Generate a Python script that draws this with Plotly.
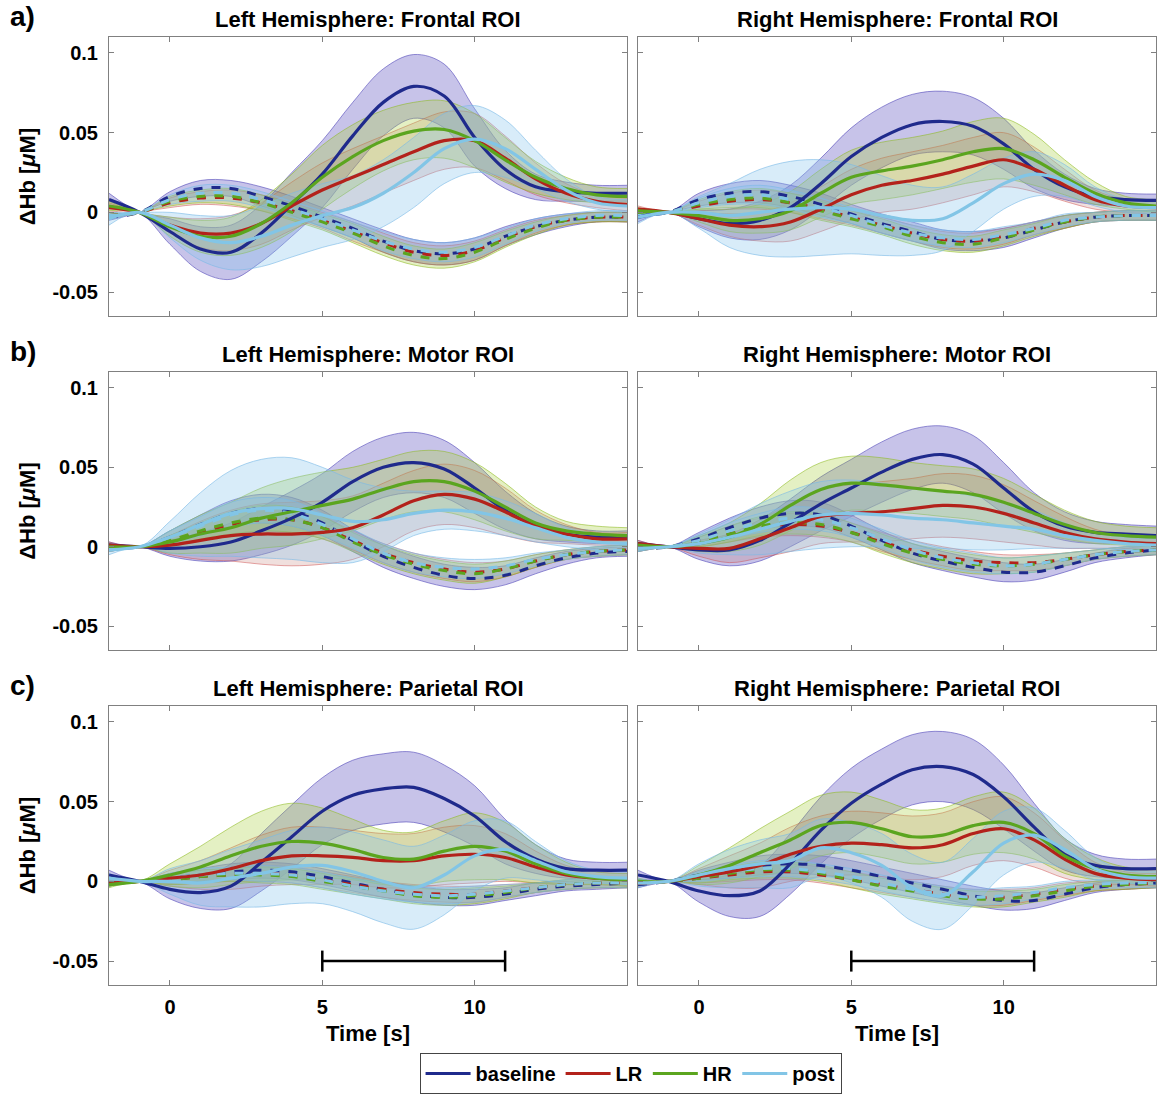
import plotly.graph_objects as go

# ---------------------------------------------------------------- data
TIME = [-2, -1, 0, 1, 2, 3, 4, 5, 6, 7, 8, 9, 10, 11, 12, 13, 14, 15]

# Left hemisphere, frontal ROI  (_O = HbO mean, _R = HbR mean, _SD = band half-width)
LF_BASE_O = [0.008, 0, -0.012, -0.023, -0.025, -0.013, 0.005, 0.024, 0.048, 0.069, 0.079, 0.073, 0.047, 0.027, 0.016, 0.013, 0.012, 0.012]
LF_BASE_O_SD = [0.004, 0, 0.008, 0.014, 0.017, 0.018, 0.02, 0.021, 0.021, 0.021, 0.02, 0.02, 0.018, 0.012, 0.008, 0.006, 0.005, 0.005]
LF_LR_O = [0.003, 0, -0.008, -0.013, -0.013, -0.007, 0.004, 0.014, 0.022, 0.03, 0.038, 0.045, 0.045, 0.034, 0.021, 0.012, 0.007, 0.005]
LF_LR_O_SD = [0.003, 0, 0.005, 0.009, 0.011, 0.013, 0.015, 0.017, 0.018, 0.018, 0.018, 0.018, 0.017, 0.014, 0.01, 0.006, 0.004, 0.004]
LF_HR_O = [0.004, 0, -0.009, -0.015, -0.015, -0.007, 0.006, 0.022, 0.035, 0.045, 0.051, 0.052, 0.045, 0.033, 0.022, 0.015, 0.011, 0.01]
LF_HR_O_SD = [0.003, 0, 0.006, 0.01, 0.012, 0.015, 0.018, 0.02, 0.02, 0.019, 0.018, 0.018, 0.017, 0.014, 0.01, 0.007, 0.005, 0.005]
LF_POST_O = [-0.004, 0, -0.008, -0.016, -0.019, -0.015, -0.008, -0.002, 0.003, 0.012, 0.025, 0.04, 0.046, 0.04, 0.027, 0.014, 0.006, 0.004]
LF_POST_O_SD = [0.004, 0, 0.008, 0.014, 0.017, 0.019, 0.02, 0.02, 0.02, 0.021, 0.022, 0.022, 0.021, 0.018, 0.012, 0.007, 0.004, 0.004]
LF_BASE_R = [-0.003, 0, 0.01, 0.015, 0.015, 0.01, 0.004, -0.003, -0.01, -0.018, -0.024, -0.026, -0.023, -0.015, -0.009, -0.005, -0.003, -0.003]
LF_BASE_R_SD = [0.002, 0, 0.003, 0.005, 0.005, 0.006, 0.006, 0.006, 0.006, 0.007, 0.007, 0.007, 0.007, 0.006, 0.005, 0.004, 0.003, 0.003]
LF_LR_R = [-0.002, 0, 0.006, 0.009, 0.009, 0.006, 0.001, -0.005, -0.012, -0.019, -0.025, -0.027, -0.024, -0.016, -0.009, -0.005, -0.003, -0.003]
LF_LR_R_SD = [0.002, 0, 0.003, 0.004, 0.005, 0.005, 0.005, 0.005, 0.006, 0.006, 0.006, 0.006, 0.006, 0.005, 0.004, 0.003, 0.003, 0.003]
LF_HR_R = [-0.002, 0, 0.007, 0.01, 0.01, 0.006, 0.0, -0.006, -0.013, -0.021, -0.027, -0.029, -0.025, -0.017, -0.01, -0.005, -0.003, -0.003]
LF_HR_R_SD = [0.002, 0, 0.003, 0.004, 0.005, 0.005, 0.005, 0.005, 0.006, 0.006, 0.006, 0.006, 0.006, 0.005, 0.004, 0.003, 0.003, 0.003]
LF_POST_R = [-0.002, 0, 0.008, 0.012, 0.012, 0.008, 0.002, -0.004, -0.011, -0.018, -0.023, -0.025, -0.022, -0.015, -0.008, -0.004, -0.002, -0.002]
LF_POST_R_SD = [0.002, 0, 0.003, 0.005, 0.005, 0.005, 0.005, 0.005, 0.005, 0.006, 0.006, 0.006, 0.006, 0.005, 0.004, 0.003, 0.003, 0.003]

# Right hemisphere, frontal ROI
RF_BASE_O = [-0.003, 0, -0.004, -0.007, -0.005, 0.003, 0.018, 0.035, 0.047, 0.055, 0.057, 0.054, 0.043, 0.027, 0.016, 0.01, 0.008, 0.0075]
RF_BASE_O_SD = [0.003, 0, 0.005, 0.009, 0.012, 0.014, 0.016, 0.018, 0.019, 0.019, 0.019, 0.018, 0.016, 0.012, 0.008, 0.005, 0.004, 0.004]
RF_LR_O = [0.002, 0, -0.004, -0.008, -0.009, -0.006, 0.002, 0.011, 0.017, 0.02, 0.024, 0.029, 0.033, 0.027, 0.017, 0.008, 0.004, 0.003]
RF_LR_O_SD = [0.002, 0, 0.004, 0.007, 0.009, 0.012, 0.014, 0.016, 0.017, 0.018, 0.018, 0.018, 0.017, 0.014, 0.01, 0.006, 0.004, 0.004]
RF_HR_O = [0.001, 0, -0.002, -0.005, -0.004, 0.001, 0.012, 0.022, 0.026, 0.029, 0.033, 0.038, 0.04, 0.033, 0.022, 0.012, 0.006, 0.004]
RF_HR_O_SD = [0.002, 0, 0.004, 0.007, 0.009, 0.012, 0.015, 0.017, 0.018, 0.018, 0.018, 0.019, 0.019, 0.016, 0.011, 0.007, 0.004, 0.004]
RF_POST_O = [-0.003, 0, 0.0, -0.002, 0.0, 0.002, 0.003, 0.002, -0.002, -0.005, -0.004, 0.006, 0.018, 0.024, 0.02, 0.01, 0.004, 0.003]
RF_POST_O_SD = [0.004, 0, 0.01, 0.02, 0.027, 0.03, 0.03, 0.028, 0.025, 0.022, 0.02, 0.018, 0.016, 0.014, 0.01, 0.006, 0.004, 0.004]
RF_BASE_R = [-0.002, 0, 0.008, 0.012, 0.013, 0.01, 0.005, -0.001, -0.007, -0.012, -0.017, -0.018, -0.016, -0.011, -0.006, -0.003, -0.002, -0.002]
RF_BASE_R_SD = [0.002, 0, 0.004, 0.006, 0.007, 0.007, 0.007, 0.006, 0.006, 0.006, 0.006, 0.006, 0.006, 0.005, 0.004, 0.003, 0.003, 0.003]
RF_LR_R = [-0.001, 0, 0.004, 0.007, 0.008, 0.006, 0.002, -0.003, -0.008, -0.013, -0.017, -0.018, -0.015, -0.01, -0.006, -0.003, -0.002, -0.002]
RF_LR_R_SD = [0.002, 0, 0.003, 0.005, 0.006, 0.006, 0.006, 0.005, 0.005, 0.005, 0.005, 0.005, 0.005, 0.004, 0.004, 0.003, 0.003, 0.003]
RF_HR_R = [-0.001, 0, 0.005, 0.008, 0.009, 0.006, 0.001, -0.004, -0.009, -0.015, -0.019, -0.02, -0.016, -0.011, -0.006, -0.003, -0.002, -0.002]
RF_HR_R_SD = [0.002, 0, 0.003, 0.005, 0.006, 0.006, 0.006, 0.005, 0.005, 0.005, 0.005, 0.005, 0.005, 0.004, 0.004, 0.003, 0.003, 0.003]
RF_POST_R = [-0.002, 0, 0.006, 0.01, 0.011, 0.008, 0.003, -0.002, -0.008, -0.013, -0.016, -0.017, -0.014, -0.01, -0.005, -0.003, -0.002, -0.002]
RF_POST_R_SD = [0.002, 0, 0.003, 0.005, 0.006, 0.006, 0.006, 0.005, 0.005, 0.005, 0.005, 0.005, 0.005, 0.004, 0.004, 0.003, 0.003, 0.003]

# Left hemisphere, motor ROI
LM_BASE_O = [0.001, 0, -0.001, 0.0, 0.003, 0.01, 0.018, 0.028, 0.041, 0.05, 0.053, 0.049, 0.037, 0.023, 0.013, 0.008, 0.006, 0.006]
LM_BASE_O_SD = [0.002, 0, 0.005, 0.009, 0.012, 0.015, 0.017, 0.018, 0.019, 0.019, 0.019, 0.018, 0.016, 0.012, 0.008, 0.005, 0.004, 0.004]
LM_LR_O = [0.001, 0, 0.001, 0.004, 0.007, 0.008, 0.008, 0.009, 0.012, 0.02, 0.029, 0.033, 0.03, 0.022, 0.013, 0.008, 0.005, 0.005]
LM_LR_O_SD = [0.002, 0, 0.006, 0.012, 0.016, 0.019, 0.02, 0.02, 0.02, 0.02, 0.019, 0.019, 0.018, 0.015, 0.01, 0.006, 0.004, 0.004]
LM_HR_O = [0.0, 0, 0.003, 0.008, 0.012, 0.018, 0.022, 0.026, 0.03, 0.036, 0.041, 0.041, 0.035, 0.025, 0.015, 0.01, 0.008, 0.007]
LM_HR_O_SD = [0.002, 0, 0.007, 0.012, 0.016, 0.019, 0.021, 0.021, 0.02, 0.019, 0.019, 0.019, 0.018, 0.015, 0.01, 0.006, 0.005, 0.005]
LM_POST_O = [-0.002, 0, 0.006, 0.014, 0.021, 0.024, 0.024, 0.02, 0.016, 0.017, 0.021, 0.023, 0.022, 0.018, 0.012, 0.006, 0.003, 0.002]
LM_POST_O_SD = [0.003, 0, 0.01, 0.02, 0.027, 0.031, 0.032, 0.03, 0.026, 0.02, 0.014, 0.012, 0.012, 0.011, 0.009, 0.006, 0.005, 0.005]
LM_BASE_R = [-0.001, 0, 0.006, 0.014, 0.021, 0.024, 0.022, 0.015, 0.004, -0.006, -0.013, -0.018, -0.02, -0.018, -0.012, -0.007, -0.004, -0.003]
LM_BASE_R_SD = [0.002, 0, 0.004, 0.006, 0.008, 0.009, 0.009, 0.008, 0.007, 0.007, 0.007, 0.007, 0.007, 0.006, 0.005, 0.004, 0.003, 0.003]
LM_LR_R = [-0.001, 0, 0.004, 0.009, 0.014, 0.017, 0.017, 0.012, 0.004, -0.004, -0.01, -0.014, -0.016, -0.014, -0.009, -0.005, -0.003, -0.002]
LM_LR_R_SD = [0.002, 0, 0.003, 0.005, 0.007, 0.008, 0.008, 0.007, 0.006, 0.006, 0.006, 0.006, 0.006, 0.005, 0.004, 0.003, 0.003, 0.003]
LM_HR_R = [-0.001, 0, 0.004, 0.01, 0.015, 0.018, 0.017, 0.012, 0.003, -0.005, -0.011, -0.015, -0.017, -0.014, -0.009, -0.005, -0.003, -0.002]
LM_HR_R_SD = [0.002, 0, 0.003, 0.005, 0.007, 0.008, 0.008, 0.007, 0.006, 0.006, 0.006, 0.006, 0.006, 0.005, 0.004, 0.003, 0.003, 0.003]
LM_POST_R = [-0.001, 0, 0.006, 0.013, 0.02, 0.023, 0.021, 0.014, 0.005, -0.004, -0.01, -0.013, -0.014, -0.012, -0.008, -0.005, -0.003, -0.002]
LM_POST_R_SD = [0.002, 0, 0.004, 0.006, 0.008, 0.008, 0.008, 0.007, 0.006, 0.006, 0.006, 0.006, 0.006, 0.005, 0.004, 0.003, 0.003, 0.003]

# Right hemisphere, motor ROI
RM_BASE_O = [0.002, 0, -0.002, -0.002, 0.004, 0.015, 0.027, 0.037, 0.047, 0.055, 0.058, 0.052, 0.037, 0.022, 0.013, 0.009, 0.008, 0.007]
RM_BASE_O_SD = [0.002, 0, 0.006, 0.01, 0.013, 0.015, 0.017, 0.018, 0.019, 0.019, 0.018, 0.018, 0.016, 0.012, 0.009, 0.007, 0.006, 0.006]
RM_LR_O = [0.002, 0, -0.001, -0.001, 0.005, 0.012, 0.019, 0.021, 0.022, 0.024, 0.026, 0.025, 0.021, 0.015, 0.009, 0.005, 0.003, 0.002]
RM_LR_O_SD = [0.002, 0, 0.005, 0.009, 0.012, 0.015, 0.017, 0.018, 0.019, 0.019, 0.02, 0.02, 0.018, 0.014, 0.01, 0.006, 0.004, 0.004]
RM_HR_O = [0.001, 0, 0.002, 0.006, 0.014, 0.026, 0.036, 0.04, 0.039, 0.037, 0.035, 0.033, 0.028, 0.021, 0.014, 0.009, 0.007, 0.006]
RM_HR_O_SD = [0.002, 0, 0.005, 0.009, 0.013, 0.016, 0.017, 0.017, 0.017, 0.016, 0.016, 0.016, 0.015, 0.012, 0.009, 0.007, 0.006, 0.006]
RM_POST_O = [-0.001, 0, 0.002, 0.006, 0.011, 0.016, 0.02, 0.021, 0.02, 0.018, 0.017, 0.015, 0.013, 0.011, 0.007, 0.004, 0.002, 0.001]
RM_POST_O_SD = [0.002, 0, 0.006, 0.011, 0.016, 0.019, 0.021, 0.021, 0.02, 0.019, 0.018, 0.017, 0.015, 0.012, 0.008, 0.005, 0.004, 0.004]
RM_BASE_R = [-0.001, 0, 0.005, 0.012, 0.018, 0.021, 0.02, 0.013, 0.004, -0.004, -0.009, -0.013, -0.016, -0.016, -0.012, -0.007, -0.004, -0.002]
RM_BASE_R_SD = [0.002, 0, 0.004, 0.006, 0.007, 0.008, 0.008, 0.007, 0.006, 0.006, 0.006, 0.006, 0.006, 0.005, 0.004, 0.003, 0.003, 0.003]
RM_LR_R = [-0.001, 0, 0.003, 0.008, 0.012, 0.014, 0.013, 0.009, 0.003, -0.002, -0.006, -0.009, -0.01, -0.01, -0.008, -0.005, -0.003, -0.002]
RM_LR_R_SD = [0.002, 0, 0.003, 0.005, 0.006, 0.007, 0.007, 0.006, 0.006, 0.006, 0.006, 0.006, 0.005, 0.005, 0.004, 0.003, 0.003, 0.003]
RM_HR_R = [-0.001, 0, 0.003, 0.008, 0.013, 0.015, 0.014, 0.009, 0.002, -0.004, -0.008, -0.011, -0.012, -0.011, -0.008, -0.005, -0.003, -0.002]
RM_HR_R_SD = [0.002, 0, 0.003, 0.005, 0.006, 0.007, 0.007, 0.006, 0.006, 0.006, 0.006, 0.006, 0.005, 0.005, 0.004, 0.003, 0.003, 0.003]
RM_POST_R = [-0.001, 0, 0.004, 0.01, 0.015, 0.018, 0.017, 0.012, 0.005, -0.002, -0.007, -0.01, -0.012, -0.011, -0.008, -0.005, -0.003, -0.002]
RM_POST_R_SD = [0.002, 0, 0.003, 0.005, 0.006, 0.007, 0.007, 0.006, 0.006, 0.006, 0.006, 0.006, 0.005, 0.005, 0.004, 0.003, 0.003, 0.003]

# Left hemisphere, parietal ROI
LP_BASE_O = [0.004, 0, -0.005, -0.007, -0.003, 0.012, 0.028, 0.044, 0.054, 0.058, 0.059, 0.052, 0.041, 0.025, 0.014, 0.008, 0.007, 0.007]
LP_BASE_O_SD = [0.003, 0, 0.006, 0.01, 0.014, 0.018, 0.02, 0.021, 0.022, 0.022, 0.022, 0.021, 0.019, 0.014, 0.009, 0.006, 0.005, 0.005]
LP_LR_O = [-0.001, 0, 0.002, 0.004, 0.008, 0.013, 0.016, 0.016, 0.015, 0.013, 0.013, 0.016, 0.017, 0.015, 0.009, 0.004, 0.002, 0.001]
LP_LR_O_SD = [0.002, 0, 0.005, 0.009, 0.013, 0.016, 0.018, 0.018, 0.017, 0.017, 0.017, 0.018, 0.018, 0.015, 0.01, 0.006, 0.004, 0.004]
LP_HR_O = [-0.002, 0, 0.004, 0.009, 0.016, 0.022, 0.025, 0.024, 0.02, 0.015, 0.014, 0.019, 0.022, 0.019, 0.011, 0.005, 0.002, 0.001]
LP_HR_O_SD = [0.002, 0, 0.007, 0.013, 0.018, 0.022, 0.024, 0.022, 0.019, 0.017, 0.017, 0.019, 0.021, 0.018, 0.012, 0.007, 0.004, 0.004]
LP_POST_O = [0.002, 0, 0.0, -0.001, 0.002, 0.005, 0.009, 0.01, 0.006, 0.0, -0.004, 0.004, 0.016, 0.02, 0.013, 0.006, 0.003, 0.002]
LP_POST_O_SD = [0.003, 0, 0.008, 0.014, 0.018, 0.021, 0.023, 0.024, 0.025, 0.026, 0.026, 0.025, 0.022, 0.018, 0.012, 0.007, 0.004, 0.004]
LP_BASE_R = [-0.001, 0, 0.002, 0.004, 0.006, 0.007, 0.006, 0.003, -0.001, -0.005, -0.008, -0.01, -0.01, -0.008, -0.005, -0.003, -0.002, -0.001]
LP_BASE_R_SD = [0.002, 0, 0.003, 0.004, 0.005, 0.005, 0.005, 0.005, 0.005, 0.005, 0.005, 0.005, 0.005, 0.004, 0.004, 0.003, 0.003, 0.003]
LP_LR_R = [-0.001, 0, 0.001, 0.003, 0.004, 0.005, 0.004, 0.001, -0.002, -0.005, -0.007, -0.008, -0.008, -0.006, -0.004, -0.002, -0.001, -0.001]
LP_LR_R_SD = [0.002, 0, 0.003, 0.004, 0.004, 0.005, 0.005, 0.005, 0.005, 0.005, 0.005, 0.005, 0.005, 0.004, 0.003, 0.003, 0.003, 0.003]
LP_HR_R = [-0.001, 0, 0.001, 0.003, 0.004, 0.004, 0.003, 0.0, -0.003, -0.006, -0.009, -0.01, -0.009, -0.007, -0.004, -0.002, -0.001, -0.001]
LP_HR_R_SD = [0.002, 0, 0.003, 0.004, 0.004, 0.005, 0.005, 0.005, 0.005, 0.005, 0.005, 0.005, 0.005, 0.004, 0.003, 0.003, 0.003, 0.003]
LP_POST_R = [-0.001, 0, 0.002, 0.004, 0.005, 0.005, 0.004, 0.001, -0.003, -0.006, -0.008, -0.009, -0.008, -0.006, -0.004, -0.002, -0.001, -0.001]
LP_POST_R_SD = [0.002, 0, 0.003, 0.004, 0.004, 0.005, 0.005, 0.005, 0.005, 0.005, 0.005, 0.005, 0.005, 0.004, 0.003, 0.003, 0.003, 0.003]

# Right hemisphere, parietal ROI
RP_BASE_O = [0.004, 0, -0.006, -0.009, -0.006, 0.011, 0.032, 0.049, 0.061, 0.07, 0.072, 0.067, 0.053, 0.034, 0.017, 0.01, 0.008, 0.008]
RP_BASE_O_SD = [0.003, 0, 0.007, 0.013, 0.016, 0.019, 0.021, 0.022, 0.022, 0.022, 0.022, 0.022, 0.02, 0.015, 0.01, 0.007, 0.006, 0.006]
RP_LR_O = [-0.001, 0, 0.003, 0.006, 0.01, 0.017, 0.022, 0.024, 0.023, 0.021, 0.023, 0.03, 0.033, 0.026, 0.014, 0.005, 0.002, 0.001]
RP_LR_O_SD = [0.002, 0, 0.005, 0.01, 0.014, 0.017, 0.019, 0.02, 0.02, 0.02, 0.02, 0.02, 0.02, 0.017, 0.012, 0.007, 0.004, 0.004]
RP_HR_O = [0.0, 0, 0.004, 0.01, 0.018, 0.026, 0.035, 0.037, 0.033, 0.028, 0.029, 0.035, 0.037, 0.03, 0.016, 0.008, 0.004, 0.003]
RP_HR_O_SD = [0.002, 0, 0.006, 0.011, 0.015, 0.018, 0.019, 0.019, 0.018, 0.017, 0.017, 0.018, 0.019, 0.016, 0.011, 0.007, 0.005, 0.005]
RP_POST_O = [-0.001, 0, 0.004, 0.008, 0.011, 0.013, 0.021, 0.018, 0.01, -0.004, -0.009, 0.006, 0.024, 0.029, 0.02, 0.008, 0.003, 0.002]
RP_POST_O_SD = [0.003, 0, 0.007, 0.012, 0.015, 0.017, 0.018, 0.019, 0.02, 0.021, 0.021, 0.021, 0.02, 0.017, 0.012, 0.007, 0.004, 0.004]
RP_BASE_R = [-0.002, 0, 0.004, 0.007, 0.01, 0.011, 0.01, 0.007, 0.003, -0.001, -0.005, -0.009, -0.012, -0.012, -0.008, -0.004, -0.002, -0.001]
RP_BASE_R_SD = [0.002, 0, 0.003, 0.005, 0.006, 0.006, 0.006, 0.006, 0.006, 0.006, 0.006, 0.006, 0.006, 0.005, 0.004, 0.003, 0.003, 0.003]
RP_LR_R = [-0.001, 0, 0.002, 0.004, 0.006, 0.006, 0.004, 0.001, -0.002, -0.005, -0.008, -0.01, -0.01, -0.008, -0.005, -0.003, -0.002, -0.001]
RP_LR_R_SD = [0.002, 0, 0.003, 0.004, 0.005, 0.005, 0.005, 0.005, 0.005, 0.005, 0.005, 0.005, 0.005, 0.004, 0.004, 0.003, 0.003, 0.003]
RP_HR_R = [-0.001, 0, 0.002, 0.005, 0.007, 0.007, 0.005, 0.001, -0.003, -0.006, -0.009, -0.011, -0.011, -0.009, -0.006, -0.003, -0.002, -0.001]
RP_HR_R_SD = [0.002, 0, 0.003, 0.004, 0.005, 0.005, 0.005, 0.005, 0.005, 0.005, 0.005, 0.005, 0.005, 0.004, 0.004, 0.003, 0.003, 0.003]
RP_POST_R = [-0.001, 0, 0.003, 0.006, 0.008, 0.008, 0.006, 0.003, -0.001, -0.005, -0.008, -0.01, -0.009, -0.007, -0.004, -0.002, -0.001, -0.001]
RP_POST_R_SD = [0.002, 0, 0.003, 0.004, 0.005, 0.005, 0.005, 0.005, 0.005, 0.005, 0.005, 0.005, 0.005, 0.004, 0.004, 0.003, 0.003, 0.003]

CONDITIONS = ["baseline", "LR", "HR", "post"]
PANEL_TITLES = [
    "Left Hemisphere: Frontal ROI", "Right Hemisphere: Frontal ROI",
    "Left Hemisphere: Motor ROI", "Right Hemisphere: Motor ROI",
    "Left Hemisphere: Parietal ROI", "Right Hemisphere: Parietal ROI",
]
ROW_LABELS = ["a)", "b)", "c)"]
STIM_WINDOW = [5, 11]      # stimulation period marker (s)
STIM_LEVEL = -0.05
X_TICKS = [0, 5, 10]
Y_TICKS = [-0.05, 0, 0.05, 0.1]
Y_TICK_TEXT = ["-0.05", "0", "0.05", "0.1"]

# per panel: for each condition (HbO mean, HbO sd, HbR mean, HbR sd)
PANEL_DATA = [
    [(LF_BASE_O, LF_BASE_O_SD, LF_BASE_R, LF_BASE_R_SD), (LF_LR_O, LF_LR_O_SD, LF_LR_R, LF_LR_R_SD),
     (LF_HR_O, LF_HR_O_SD, LF_HR_R, LF_HR_R_SD), (LF_POST_O, LF_POST_O_SD, LF_POST_R, LF_POST_R_SD)],
    [(RF_BASE_O, RF_BASE_O_SD, RF_BASE_R, RF_BASE_R_SD), (RF_LR_O, RF_LR_O_SD, RF_LR_R, RF_LR_R_SD),
     (RF_HR_O, RF_HR_O_SD, RF_HR_R, RF_HR_R_SD), (RF_POST_O, RF_POST_O_SD, RF_POST_R, RF_POST_R_SD)],
    [(LM_BASE_O, LM_BASE_O_SD, LM_BASE_R, LM_BASE_R_SD), (LM_LR_O, LM_LR_O_SD, LM_LR_R, LM_LR_R_SD),
     (LM_HR_O, LM_HR_O_SD, LM_HR_R, LM_HR_R_SD), (LM_POST_O, LM_POST_O_SD, LM_POST_R, LM_POST_R_SD)],
    [(RM_BASE_O, RM_BASE_O_SD, RM_BASE_R, RM_BASE_R_SD), (RM_LR_O, RM_LR_O_SD, RM_LR_R, RM_LR_R_SD),
     (RM_HR_O, RM_HR_O_SD, RM_HR_R, RM_HR_R_SD), (RM_POST_O, RM_POST_O_SD, RM_POST_R, RM_POST_R_SD)],
    [(LP_BASE_O, LP_BASE_O_SD, LP_BASE_R, LP_BASE_R_SD), (LP_LR_O, LP_LR_O_SD, LP_LR_R, LP_LR_R_SD),
     (LP_HR_O, LP_HR_O_SD, LP_HR_R, LP_HR_R_SD), (LP_POST_O, LP_POST_O_SD, LP_POST_R, LP_POST_R_SD)],
    [(RP_BASE_O, RP_BASE_O_SD, RP_BASE_R, RP_BASE_R_SD), (RP_LR_O, RP_LR_O_SD, RP_LR_R, RP_LR_R_SD),
     (RP_HR_O, RP_HR_O_SD, RP_HR_R, RP_HR_R_SD), (RP_POST_O, RP_POST_O_SD, RP_POST_R, RP_POST_R_SD)],
]

# ---------------------------------------------------------------- style
LINE_COLORS = {"baseline": "#1f2a8c", "LR": "#b3221b", "HR": "#5ba51f", "post": "#82c5e6"}
FILL_COLORS = {"baseline": "rgba(100,90,195,0.36)", "LR": "rgba(185,110,100,0.22)",
               "HR": "rgba(165,205,55,0.30)", "post": "rgba(135,195,235,0.32)"}
EDGE_COLORS = {"baseline": "rgba(80,70,185,0.75)", "LR": "rgba(205,70,70,0.6)",
               "HR": "rgba(140,185,30,0.7)", "post": "rgba(120,185,230,0.75)"}
FONT = "Liberation Sans, Arial, sans-serif"

W, H = 1157, 1094
COL_PX = [(109, 627), (638, 1156)]
ROW_PX = [(37, 316), (372, 650), (706, 985)]
X_RANGE = [-2, 15]
Y_RANGE = [-0.065, 0.11]

fig = go.Figure()


def axis_names(k):
    return ("x" if k == 0 else f"x{k + 1}"), ("y" if k == 0 else f"y{k + 1}")


for k, panel in enumerate(PANEL_DATA):
    xa, ya = axis_names(k)
    # shaded bands
    for cond, (o, o_sd, r, r_sd) in zip(CONDITIONS, panel):
        for mean, sd in ((o, o_sd), (r, r_sd)):
            upper = [m + s for m, s in zip(mean, sd)]
            lower = [m - s for m, s in zip(mean, sd)]
            fig.add_trace(go.Scatter(x=TIME, y=upper, mode="lines", xaxis=xa, yaxis=ya,
                                     line=dict(color=EDGE_COLORS[cond], width=0.8, shape="spline"),
                                     showlegend=False, hoverinfo="skip"))
            fig.add_trace(go.Scatter(x=TIME, y=lower, mode="lines", xaxis=xa, yaxis=ya,
                                     line=dict(color=EDGE_COLORS[cond], width=0.8, shape="spline"),
                                     fill="tonexty", fillcolor=FILL_COLORS[cond],
                                     showlegend=False, hoverinfo="skip"))
    # HbR means (dashed)
    for cond, (o, o_sd, r, r_sd) in zip(CONDITIONS, panel):
        fig.add_trace(go.Scatter(x=TIME, y=r, mode="lines", xaxis=xa, yaxis=ya,
                                 line=dict(color=LINE_COLORS[cond], width=3, dash="dash", shape="spline"),
                                 showlegend=False, name=cond))
    # HbO means (solid)
    for cond, (o, o_sd, r, r_sd) in zip(CONDITIONS, panel):
        fig.add_trace(go.Scatter(x=TIME, y=o, mode="lines", xaxis=xa, yaxis=ya,
                                 line=dict(color=LINE_COLORS[cond], width=3.2, shape="spline"),
                                 showlegend=(k == 0), name=cond))
    # stimulation period bar in the bottom row
    if k >= 4:
        fig.add_trace(go.Scatter(x=STIM_WINDOW, y=[STIM_LEVEL] * 2, mode="lines+markers",
                                 xaxis=xa, yaxis=ya,
                                 line=dict(color="black", width=2.5),
                                 marker=dict(symbol="line-ns", size=15,
                                             line=dict(color="black", width=2.5)),
                                 showlegend=False, hoverinfo="skip"))

layout = dict(
    width=W, height=H, margin=dict(l=0, r=0, t=0, b=0),
    paper_bgcolor="white", plot_bgcolor="white",
    font=dict(family=FONT, size=17, color="black"),
    showlegend=True,
    legend=dict(orientation="h", x=0.545, xanchor="center", y=0.0, yanchor="bottom",
                traceorder="normal",
                bordercolor="#444", borderwidth=1, bgcolor="white",
                font=dict(family=FONT, size=20, color="black", weight="bold"),
                itemwidth=45, tracegroupgap=0),
)

annotations = []
for k in range(6):
    row, col = divmod(k, 2)
    x0, x1 = COL_PX[col]
    y0, y1 = ROW_PX[row]
    xkey = "xaxis" if k == 0 else f"xaxis{k + 1}"
    ykey = "yaxis" if k == 0 else f"yaxis{k + 1}"
    xa, ya = axis_names(k)
    layout[xkey] = dict(
        domain=[x0 / W, x1 / W], range=X_RANGE, anchor=ya,
        tickvals=X_TICKS, ticks="inside", ticklen=5, tickcolor="#808080",
        showline=True, linecolor="#808080", linewidth=1, mirror="ticks",
        showgrid=False, zeroline=False,
        showticklabels=(row == 2), ticklabelstandoff=4,
        tickfont=dict(family=FONT, size=20, color="black", weight="bold"),
        title=dict(text="Time [s]" if row == 2 else "",
                   font=dict(family=FONT, size=22, color="black", weight="bold"), standoff=8),
    )
    layout[ykey] = dict(
        domain=[1 - y1 / H, 1 - y0 / H], range=Y_RANGE, anchor=xa,
        tickvals=Y_TICKS, ticktext=Y_TICK_TEXT, ticks="inside", ticklen=5, tickcolor="#808080",
        showline=True, linecolor="#808080", linewidth=1, mirror="ticks",
        showgrid=False, zeroline=False,
        showticklabels=(col == 0), ticklabelstandoff=6,
        tickfont=dict(family=FONT, size=20, color="black", weight="bold"),
        title=dict(text="ΔHb [<i>μ</i>M]" if col == 0 else "",
                   font=dict(family=FONT, size=22, color="black", weight="bold"), standoff=10),
    )
    annotations.append(dict(
        text=PANEL_TITLES[k], x=(x0 + x1) / 2 / W, y=1 - (y0 - 3) / H,
        xref="paper", yref="paper", xanchor="center", yanchor="bottom", showarrow=False,
        font=dict(family=FONT, size=22, color="black", weight="bold"),
    ))

for row, label in enumerate(ROW_LABELS):
    annotations.append(dict(
        text=label, x=8 / W, y=1 - (ROW_PX[row][0] - 3) / H,
        xref="paper", yref="paper", xanchor="left", yanchor="bottom", showarrow=False,
        font=dict(family=FONT, size=28, color="black", weight="bold"),
    ))

layout["annotations"] = annotations
fig.update_layout(**layout)
fig.write_html("out.html")
